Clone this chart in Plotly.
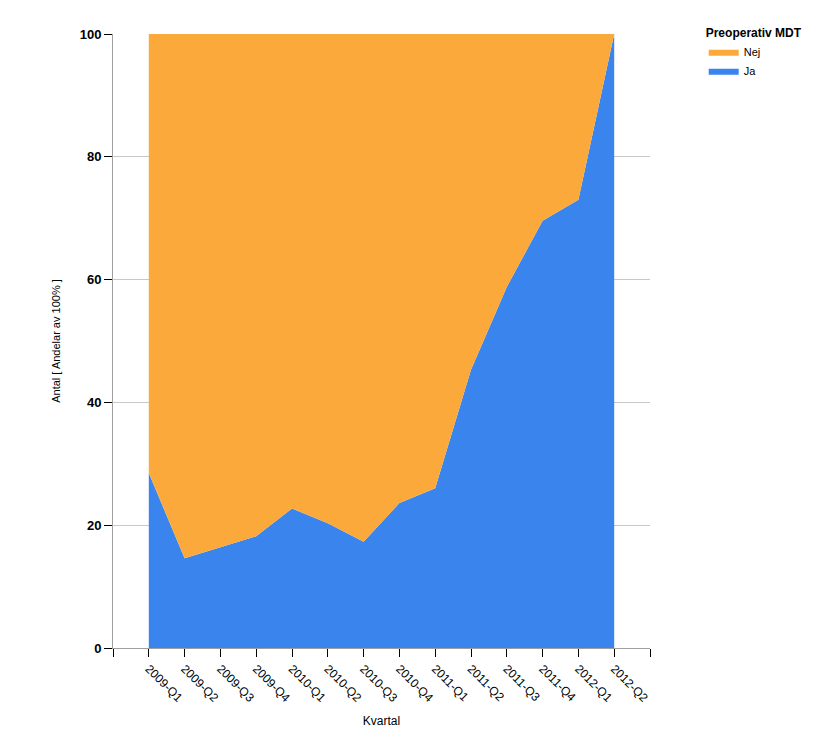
import plotly.graph_objects as go

quarters = ["2009-Q1", "2009-Q2", "2009-Q3", "2009-Q4", "2010-Q1", "2010-Q2",
            "2010-Q3", "2010-Q4", "2011-Q1", "2011-Q2", "2011-Q3", "2011-Q4",
            "2012-Q1", "2012-Q2"]
ja = [28.5, 14.6, 16.4, 18.2, 22.7, 20.3, 17.3, 23.6, 26.0, 45.3, 58.8, 69.6, 73.0, 100.0]
nej = [100.0 - v for v in ja]

idx = list(range(len(quarters)))
tickvals = [-1] + idx + [len(quarters)]
ticktext = [""] + quarters + [""]

FONT = "Liberation Sans, Arial, sans-serif"

fig = go.Figure()
fig.add_trace(go.Scatter(x=idx, y=ja, name="Ja", mode="lines", stackgroup="one",
                         line=dict(width=0, color="#3A84EE"), fillcolor="#3A84EE"))
fig.add_trace(go.Scatter(x=idx, y=nej, name="Nej", mode="lines", stackgroup="one",
                         line=dict(width=0, color="#FBA93A"), fillcolor="#FBA93A"))

fig.update_layout(
    width=816, height=741,
    margin=dict(l=113, r=166, t=34, b=93, autoexpand=False),
    paper_bgcolor="white", plot_bgcolor="white",
    font=dict(family=FONT, size=11, color="black"),
    showlegend=True,
    legend=dict(
        title=dict(text="<b>Preoperativ MDT</b>", font=dict(size=12)),
        traceorder="reversed",
        x=1.1, xanchor="left", y=1.02, yanchor="top",
        font=dict(size=11), itemwidth=30, tracegroupgap=0,
    ),
    xaxis=dict(
        range=[-1, len(quarters)], tickmode="array", tickvals=tickvals, ticktext=ticktext,
        tickangle=45, ticks="outside", ticklen=8, tickcolor="black",
        showgrid=False, zeroline=False, showline=True, linecolor="#A0A0A0",
        tickfont=dict(size=12), automargin=False,
        title=dict(text="Kvartal", font=dict(size=12), standoff=12),
    ),
    yaxis=dict(
        range=[0, 100], tickvals=[0, 20, 40, 60, 80, 100],
        ticks="outside", ticklen=8, tickcolor="black",
        showgrid=True, gridcolor="#C8C8C8", zeroline=False,
        showline=True, linecolor="#A0A0A0", automargin=False,
        tickfont=dict(size=13, family="Liberation Sans, Arial, sans-serif", weight="bold"),
        title=dict(text="Antal [ Andelar av 100% ]", font=dict(size=11), standoff=16),
    ),
)

fig.write_html("out.html")
